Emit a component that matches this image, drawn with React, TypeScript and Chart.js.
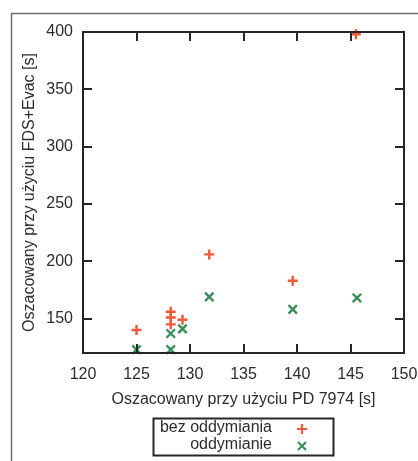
import React, { useEffect, useRef } from "react";
import { Chart, registerables } from "chart.js";

Chart.register(...registerables);

// ---- data ----
const xTickValues = [120, 125, 130, 135, 140, 145, 150];
const yTickValues = [150, 200, 250, 300, 350, 400];

const seriesNames = ["bez oddymiania", "oddymianie"];

const xNoSmoke = [125, 128.2, 128.2, 128.2, 129.3, 131.8, 139.6, 145.5];
const yNoSmoke = [140, 156, 151, 145, 149, 206, 183, 398];

const xSmoke = [125, 128.2, 128.2, 129.3, 131.8, 139.6, 145.6];
const ySmoke = [123, 137, 123, 141, 169, 158, 168];

const xTitle = "Oszacowany przy użyciu PD 7974 [s]";
const yTitle = "Oszacowany przy użyciu FDS+Evac [s]";

// ---- styles ----
const FONT = "'Liberation Sans', Arial, Helvetica, sans-serif";
const TEXT = "#2c2c2c";
const AXIS = "#262626";
const RED = "#f05a3a";
const GREEN = "#3a8f58";

const framePlugin = {
  id: "frame",
  beforeDraw(chart: any) {
    const ctx = chart.ctx;
    ctx.save();
    ctx.fillStyle = "#ffffff";
    ctx.fillRect(0, 0, chart.width, chart.height);
    ctx.strokeStyle = "#6e6e6e";
    ctx.lineWidth = 1.5;
    ctx.beginPath();
    ctx.moveTo(11.5, chart.height);
    ctx.lineTo(11.5, 13.5);
    ctx.lineTo(chart.width, 13.5);
    ctx.stroke();
    ctx.restore();
  },
  afterDraw(chart: any) {
    const ctx = chart.ctx;
    const a = chart.chartArea;
    const xs = chart.scales.x;
    const ys = chart.scales.y;
    const tl = 9;
    ctx.save();
    ctx.strokeStyle = AXIS;
    ctx.lineWidth = 2;
    // inward ticks on all sides
    ctx.beginPath();
    xs.ticks.forEach((t: any) => {
      const px = Math.round(xs.getPixelForValue(t.value));
      ctx.moveTo(px, a.bottom);
      ctx.lineTo(px, a.bottom - tl);
      ctx.moveTo(px, a.top);
      ctx.lineTo(px, a.top + tl);
    });
    ys.ticks.forEach((t: any) => {
      const py = Math.round(ys.getPixelForValue(t.value));
      ctx.moveTo(a.left, py);
      ctx.lineTo(a.left + tl, py);
      ctx.moveTo(a.right, py);
      ctx.lineTo(a.right - tl, py);
    });
    ctx.stroke();
    // border
    ctx.strokeRect(a.left, a.top, a.right - a.left, a.bottom - a.top);

    // legend (gnuplot style)
    const boxL = 153.5, boxR = 333.5, boxT = 418.5, boxB = 455.5;
    ctx.lineWidth = 2;
    ctx.strokeStyle = AXIS;
    ctx.strokeRect(boxL, boxT, boxR - boxL, boxB - boxT);
    ctx.font = `16px ${FONT}`;
    ctx.fillStyle = TEXT;
    ctx.textAlign = "right";
    ctx.textBaseline = "middle";
    const rows = [428, 445];
    const textRight = 272;
    const symX = 302;
    ctx.fillText(seriesNames[0], textRight, rows[0]);
    ctx.fillText(seriesNames[1], textRight, rows[1]);
    ctx.lineWidth = 2.2;
    // plus
    ctx.strokeStyle = RED;
    ctx.beginPath();
    ctx.moveTo(symX - 5, rows[0] + 1);
    ctx.lineTo(symX + 5, rows[0] + 1);
    ctx.moveTo(symX, rows[0] - 4);
    ctx.lineTo(symX, rows[0] + 6);
    ctx.stroke();
    // x
    ctx.strokeStyle = GREEN;
    ctx.beginPath();
    ctx.moveTo(symX - 4, rows[1] - 3);
    ctx.lineTo(symX + 4, rows[1] + 5);
    ctx.moveTo(symX + 4, rows[1] - 3);
    ctx.lineTo(symX - 4, rows[1] + 5);
    ctx.stroke();
    ctx.restore();
  },
};

export default function App() {
  const ref = useRef<HTMLCanvasElement | null>(null);

  useEffect(() => {
    document.body.style.margin = "0";
    const canvas = ref.current;
    if (!canvas) return;
    const chart = new Chart(canvas, {
      type: "scatter",
      data: {
        datasets: [
          {
            label: seriesNames[0],
            data: xNoSmoke.map((x, i) => ({ x, y: yNoSmoke[i] })),
            pointStyle: "cross",
            pointRadius: 5,
            pointBorderWidth: 2.4,
            borderColor: RED,
            backgroundColor: RED,
            clip: false as any,
          },
          {
            label: seriesNames[1],
            data: xSmoke.map((x, i) => ({ x, y: ySmoke[i] })),
            pointStyle: "crossRot",
            pointRadius: 6,
            pointBorderWidth: 2.4,
            borderColor: GREEN,
            backgroundColor: GREEN,
            clip: false as any,
          },
        ],
      },
      options: {
        animation: false,
        responsive: false,
        events: [],
        layout: { padding: { top: 32, right: 14, left: 0, bottom: 48 } },
        plugins: {
          legend: { display: false },
          tooltip: { enabled: false },
        },
        scales: {
          x: {
            type: "linear",
            min: 120,
            max: 150,
            grid: { display: false, drawTicks: false },
            border: { display: false },
            afterBuildTicks: (s: any) => {
              s.ticks = xTickValues.map((v) => ({ value: v }));
            },
            afterFit: (s: any) => {
              s.height = 60;
              s.paddingLeft = 0;
              s.paddingRight = 0;
            },
            ticks: {
              padding: 12,
              color: TEXT,
              font: { family: FONT, size: 16 },
              maxRotation: 0,
            },
            title: {
              display: true,
              text: xTitle,
              color: TEXT,
              font: { family: FONT, size: 16 },
              padding: { top: 0, bottom: 4 },
            },
          },
          y: {
            type: "linear",
            min: 120,
            max: 400,
            grid: { display: false, drawTicks: false },
            border: { display: false },
            afterBuildTicks: (s: any) => {
              s.ticks = yTickValues.map((v) => ({ value: v }));
            },
            afterFit: (s: any) => {
              s.width = 83;
              s.paddingTop = 0;
              s.paddingBottom = 0;
            },
            ticks: {
              padding: 10,
              color: TEXT,
              font: { family: FONT, size: 16 },
            },
            title: {
              display: true,
              text: yTitle,
              color: TEXT,
              font: { family: FONT, size: 16 },
              padding: { top: 20, bottom: 0 },
            },
          },
        },
      },
      plugins: [framePlugin],
    });
    return () => chart.destroy();
  }, []);

  return (
    <div style={{ width: 418, height: 461 }}>
      <canvas ref={ref} width={418} height={461} />
    </div>
  );
}
